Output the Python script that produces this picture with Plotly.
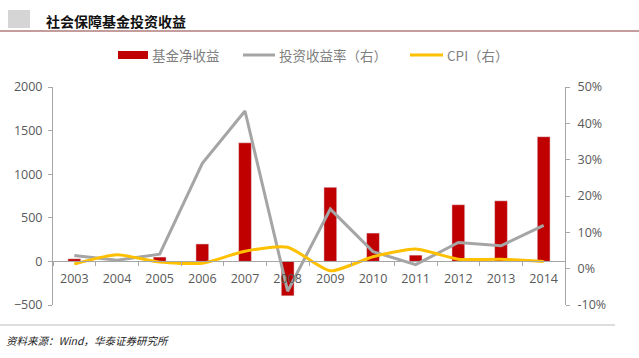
import plotly.graph_objects as go

years = ["2003", "2004", "2005", "2006", "2007", "2008", "2009", "2010", "2011", "2012", "2013", "2014"]
net_income = [30, 5, 50, 200, 1360, -395, 850, 325, 72, 650, 695, 1430]
return_rate = [3.6, 2.3, 4.0, 29.0, 43.4, -6.2, 16.4, 4.7, 1.1, 7.2, 6.3, 11.9]
cpi = [1.3, 3.8, 1.8, 1.5, 4.8, 5.9, -0.6, 3.3, 5.4, 2.6, 2.6, 2.0]
left_ticks = [-500, 0, 500, 1000, 1500, 2000]
right_ticks = [-10, 0, 10, 20, 30, 40, 50]
series_names = ["基金净收益", "投资收益率（右）", "CPI（右）"]
series_colors = ["#C00000", "#A5A5A5", "#FFC000"]

AX = "#A6A6A6"
TXT = "#595959"
FONT = "Open Sans, Noto Sans CJK SC, sans-serif"

W, H = 639, 358
L, R, T, B = 53, 74, 87, 53
PW, PH = W - L - R, H - T - B


def px_x(x):
    return (x - L) / PW


def px_y(y):
    return (H - B - y) / PH


fig = go.Figure()
fig.add_trace(go.Bar(x=years, y=net_income, name=series_names[0], marker_color=series_colors[0],
                     width=0.3, yaxis="y", showlegend=False))
fig.add_trace(go.Scatter(x=years, y=return_rate, name=series_names[1], mode="lines",
                         line=dict(color=series_colors[1], width=3), yaxis="y2", showlegend=False))
fig.add_trace(go.Scatter(x=years, y=cpi, name=series_names[2], mode="lines",
                         line=dict(color=series_colors[2], width=3, shape="spline", smoothing=0.6),
                         yaxis="y2", showlegend=False))

fig.update_layout(
    width=W, height=H,
    margin=dict(l=L, r=R, t=T, b=B, autoexpand=False),
    paper_bgcolor="white", plot_bgcolor="white",
    font=dict(family=FONT, size=12, color=TXT),
    showlegend=False,
    xaxis=dict(type="category", showgrid=False, showline=True, linecolor=AX, linewidth=1,
               ticks="outside", tickson="boundaries", tickcolor=AX, ticklen=4,
               anchor="free", position=0.2, automargin=False, ticklabelstandoff=6,
               tickfont=dict(size=12.5, color=TXT)),
    yaxis=dict(range=[-500, 2000], tickvals=left_ticks, showgrid=False, zeroline=False,
               showline=True, linecolor=AX, ticks="outside", tickcolor=AX, ticklen=4,
               automargin=False, ticklabelstandoff=3, tickfont=dict(size=12.5, color=TXT)),
    yaxis2=dict(range=[-10, 50], tickvals=right_ticks, ticktext=[f"{v}%" for v in right_ticks],
                overlaying="y", side="right", showgrid=False, zeroline=False,
                showline=True, linecolor=AX, ticks="outside", tickcolor=AX, ticklen=4,
                automargin=False, ticklabelstandoff=5, tickfont=dict(size=12.5, color=TXT)),
)

# manual legend (symbol + label)
legend_y = 55
legend_items = [(118, 148, "rect"), (243, 275, "line"), (410, 443, "line")]
for (x0, x1, kind), name, color in zip(legend_items, series_names, series_colors):
    if kind == "rect":
        fig.add_shape(type="rect", xref="paper", yref="paper", x0=px_x(x0), x1=px_x(x1),
                      y0=px_y(legend_y + 4), y1=px_y(legend_y - 4),
                      line=dict(width=0), fillcolor=color)
    else:
        fig.add_shape(type="line", xref="paper", yref="paper", x0=px_x(x0), x1=px_x(x1),
                      y0=px_y(legend_y), y1=px_y(legend_y), line=dict(color=color, width=3))
    fig.add_annotation(text=name, xref="paper", yref="paper", x=px_x(x1 + 2), xanchor="left",
                       y=px_y(legend_y), yanchor="middle", showarrow=False,
                       font=dict(family="Noto Sans CJK SC", size=13.5, color="#7F7F7F"))

fig.add_annotation(text="<b>社会保障基金投资收益</b>", xref="paper", yref="paper",
                   x=px_x(44), xanchor="left", y=px_y(21), yanchor="middle",
                   showarrow=False, font=dict(family="Noto Sans CJK SC", size=14, color="#111111"))
fig.add_annotation(text="<i>资料来源：Wind，华泰证券研究所</i>", xref="paper", yref="paper",
                   x=px_x(4), xanchor="left", y=px_y(340), yanchor="middle",
                   showarrow=False, font=dict(family="Noto Sans CJK SC", size=10.5, color="#222222"))

fig.add_shape(type="line", xref="paper", yref="paper", x0=px_x(0), x1=px_x(639),
              y0=px_y(31), y1=px_y(31), line=dict(color="#8B3A3A", width=1))
fig.add_shape(type="line", xref="paper", yref="paper", x0=px_x(0), x1=px_x(615),
              y0=px_y(325), y1=px_y(325), line=dict(color="#BBBBBB", width=1))
fig.add_shape(type="rect", xref="paper", yref="paper", x0=px_x(8), x1=px_x(30),
              y0=px_y(28), y1=px_y(10), line=dict(width=0), fillcolor="#D5D5D5")

fig.write_html("out.html", config={"displayModeBar": False},
               post_script="document.body.style.margin='0';")
